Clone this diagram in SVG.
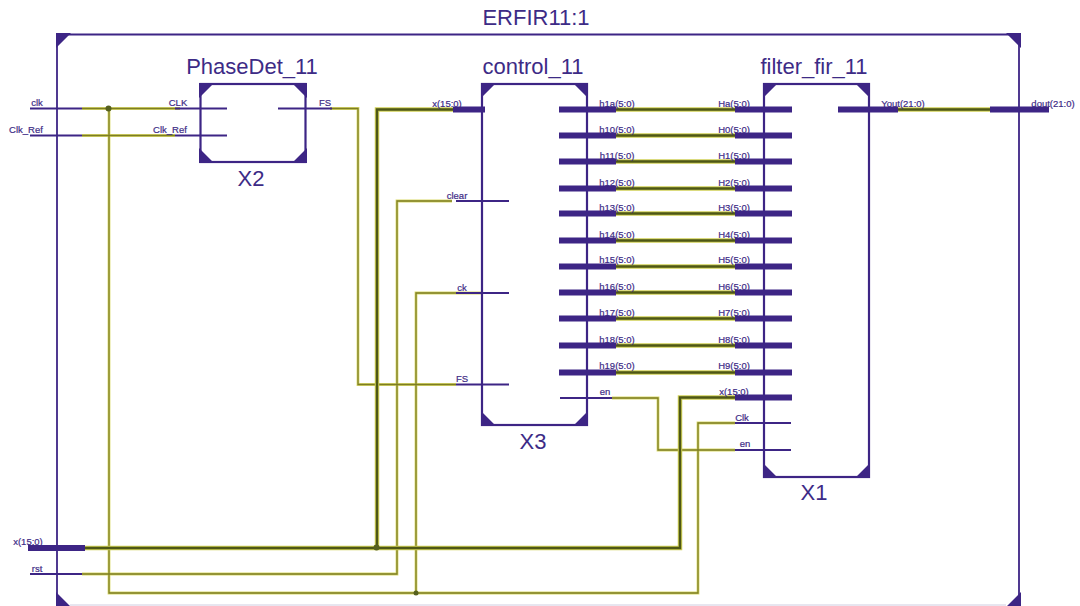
<svg xmlns="http://www.w3.org/2000/svg" width="1080" height="606" viewBox="0 0 1080 606">
<style>
text{font-family:"Liberation Sans",Arial,sans-serif;fill:#3d2b86}
.t{font-size:22px;text-anchor:middle}
.p{font-size:9.500px;text-anchor:middle;stroke:#3d2b86;stroke-width:.2px}
.b{fill:none;stroke:#3d2585;stroke-width:2.200}
.c{fill:#3d2585}
.pin{stroke:#3d2585;stroke-width:1.800;fill:none}
.bus{stroke:#3d2585;stroke-width:6;fill:none}
.wo{fill:none;stroke:#d9d96a;stroke-width:2.800}
.wi{fill:none;stroke:#7d7d24;stroke-width:1.300}
.bo{fill:none;stroke:#cfcf55;stroke-width:4.500}
.bi{fill:none;stroke:#4e5716;stroke-width:2.400}
.dot{fill:#56601e}
</style>
<rect width="1080" height="606" fill="#fff"/>
<g id="connectors">
<path class="wo" d="M82 108.500H180M82 135.500H175M109 108.500V593H698V423H735M416 593V293H481M330 108.500H358V384.500H456M82 574H397V201H452M612 398H658V450H735"/>
<path class="wi" d="M82 108.500H180M82 135.500H175M109 108.500V593H698V423H735M416 593V293H481M330 108.500H358V384.500H456M82 574H397V201H452M612 398H658V450H735"/>
<path class="bo" d="M85 548H680V397.500H735M377 548V109.500H453M616 109.500H735M616 135.500H735M616 161.500H735M616 188.500H735M616 213.500H735M616 240.500H735M616 266.500H735M616 292.500H735M616 318.500H735M616 345.500H735M616 372.500H735M898 109.500H990"/>
<path class="bi" d="M85 548H680V397.500H735M377 548V109.500H453M616 109.500H735M616 135.500H735M616 161.500H735M616 188.500H735M616 213.500H735M616 240.500H735M616 266.500H735M616 292.500H735M616 318.500H735M616 345.500H735M616 372.500H735M898 109.500H990"/>
<circle class="dot" cx="108.500" cy="108.500" r="3"/>
<circle class="dot" cx="376.500" cy="547.500" r="3"/>
<circle class="dot" cx="416" cy="593" r="2.500"/>
</g>
<g id="frame">
<path d="M70 605H1006" fill="none" stroke="#cfcce0" stroke-width="1"/>
<path class="b" d="M57 34.500H1019V606M57 34.500V606" style="stroke-width:1.800"/>
<path class="c" d="M56 33H71L56 48ZM1021 33H1006L1021 48ZM56 592V606H70ZM1021 592V606H1007Z"/>
<path class="pin" d="M30 108.500H82M30 135.500H82M30 574H82"/>
<path class="bus" d="M28 548H85M990 109.500H1049"/>
<text class="t" x="536" y="25">ERFIR11:1</text>
<text class="p" x="37" y="106">clk</text>
<text class="p" x="26" y="133">Clk_Ref</text>
<text class="p" x="28" y="545">x(15:0)</text>
<text class="p" x="37" y="572">rst</text>
<text class="p" x="1053" y="107">dout(21:0)</text>
</g>
<g id="PhaseDet_11">
<rect class="b" x="200.500" y="84" width="105" height="78"/>
<path class="c" d="M199 83H214L199 98ZM307 83H292L307 98ZM199 163V148L214 163ZM307 163V148L292 163Z"/>
<path class="pin" d="M175 108.500H227M175 135.500H227M278 108.500H332"/>
<text class="t" x="252" y="74">PhaseDet_11</text>
<text class="t" x="251" y="186">X2</text>
<text class="p" x="178" y="106">CLK</text>
<text class="p" x="170" y="133">Clk_Ref</text>
<text class="p" x="325" y="106">FS</text>
</g>
<g id="control_11">
<rect class="b" x="482" y="84" width="105" height="341"/>
<path class="c" d="M481 83H496L481 98ZM588 83H573L588 98ZM481 411V426H496ZM588 411V426H573Z"/>
<path class="pin" d="M456 201H509M456 293H509M456 384.500H509M560 398H612"/>
<path class="bus" d="M453 109.500H485M559 109.500H616M559 135.500H616M559 161.500H616M559 188.500H616M559 213.500H616M559 240.500H616M559 266.500H616M559 292.500H616M559 318.500H616M559 345.500H616M559 372.500H616"/>
<text class="t" x="533" y="74">control_11</text>
<text class="t" x="533" y="449">X3</text>
<text class="p" x="447" y="107">x(15:0)</text>
<text class="p" x="457" y="199">clear</text>
<text class="p" x="462" y="291">ck</text>
<text class="p" x="462" y="382">FS</text>
<text class="p" x="617" y="107">h1a(5:0)</text>
<text class="p" x="617" y="133">h10(5:0)</text>
<text class="p" x="617" y="159">h11(5:0)</text>
<text class="p" x="617" y="186">h12(5:0)</text>
<text class="p" x="617" y="211">h13(5:0)</text>
<text class="p" x="617" y="238">h14(5:0)</text>
<text class="p" x="617" y="263">h15(5:0)</text>
<text class="p" x="617" y="290">h16(5:0)</text>
<text class="p" x="617" y="316">h17(5:0)</text>
<text class="p" x="617" y="343">h18(5:0)</text>
<text class="p" x="617" y="369">h19(5:0)</text>
<text class="p" x="605" y="395">en</text>
</g>
<g id="filter_fir_11">
<rect class="b" x="764" y="84" width="105" height="393"/>
<path class="c" d="M763 83H778L763 98ZM870 83H855L870 98ZM763 463V478H778ZM870 463V478H855Z"/>
<path class="pin" d="M735 423H791M735 450H791"/>
<path class="bus" d="M735 109.500H792M735 135.500H792M735 161.500H792M735 188.500H792M735 213.500H792M735 240.500H792M735 266.500H792M735 292.500H792M735 318.500H792M735 345.500H792M735 372.500H792M735 397.500H792M838 109.500H898"/>
<text class="t" x="814" y="74">filter_fir_11</text>
<text class="t" x="814" y="500">X1</text>
<text class="p" x="734" y="107">Ha(5:0)</text>
<text class="p" x="734" y="133">H0(5:0)</text>
<text class="p" x="734" y="159">H1(5:0)</text>
<text class="p" x="734" y="186">H2(5:0)</text>
<text class="p" x="734" y="211">H3(5:0)</text>
<text class="p" x="734" y="238">H4(5:0)</text>
<text class="p" x="734" y="263">H5(5:0)</text>
<text class="p" x="734" y="290">H6(5:0)</text>
<text class="p" x="734" y="316">H7(5:0)</text>
<text class="p" x="734" y="343">H8(5:0)</text>
<text class="p" x="734" y="369">H9(5:0)</text>
<text class="p" x="734" y="395">x(15:0)</text>
<text class="p" x="742" y="421">Clk</text>
<text class="p" x="745" y="447">en</text>
<text class="p" x="903" y="107">Yout(21:0)</text>
</g>
</svg>
